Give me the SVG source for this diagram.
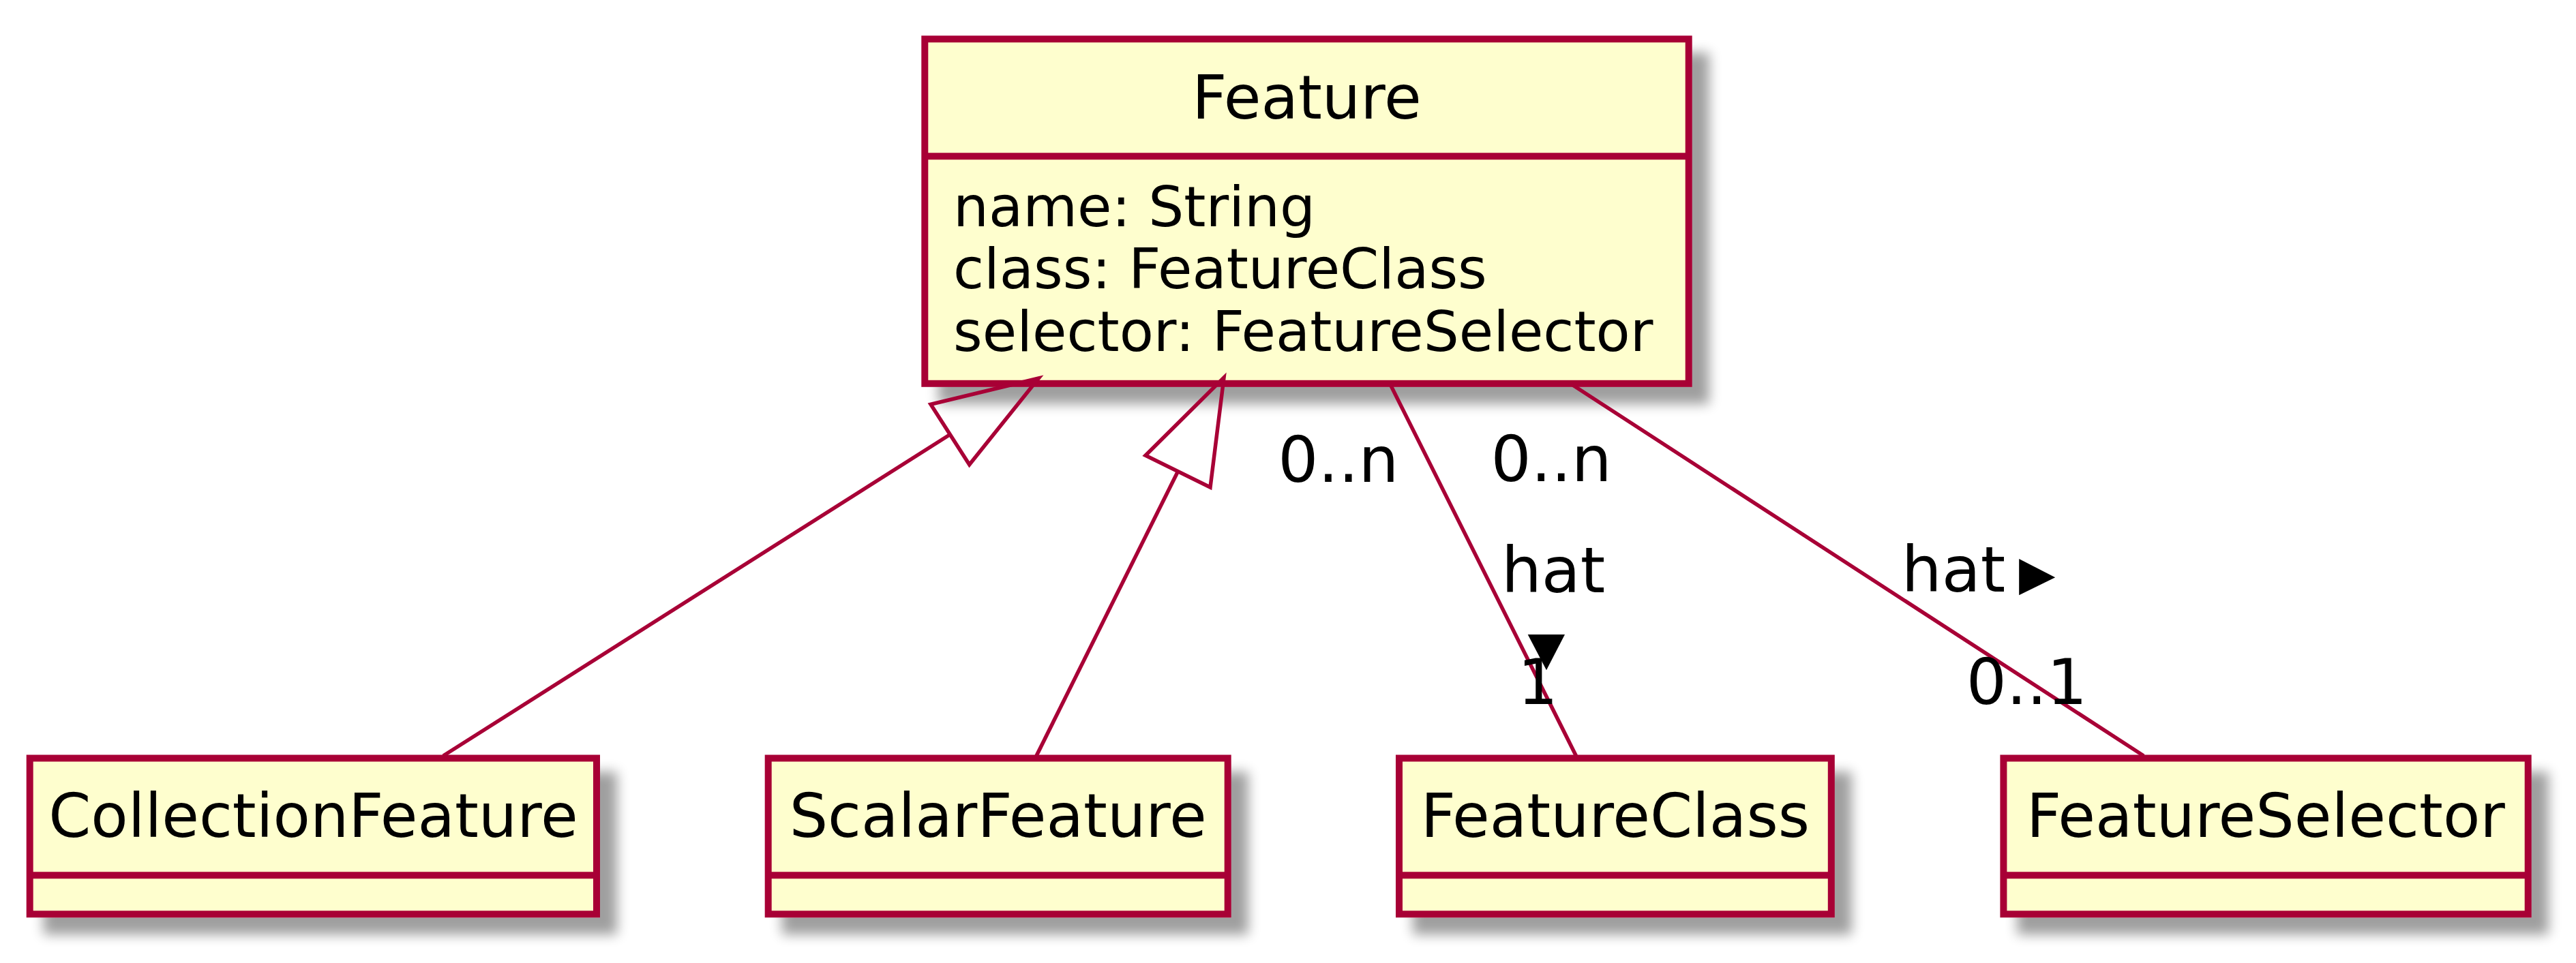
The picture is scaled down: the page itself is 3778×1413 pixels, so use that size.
<svg xmlns="http://www.w3.org/2000/svg" width="3778" height="1413" viewBox="0 0 3778 1413">
<style>
.box{fill:#FEFECE;stroke:#A80036;stroke-width:10;filter:url(#sh)}
.sep{stroke:#A80036;stroke-width:10}
.name{font-family:"DejaVu Sans",sans-serif;font-size:89px;fill:#000;text-anchor:middle}
.attr{font-family:"DejaVu Sans",sans-serif;font-size:82px;fill:#000}
.lbl{font-family:"DejaVu Sans",sans-serif;font-size:93px;fill:#000}
.edge{stroke:#A80036;stroke-width:5.5;fill:none}
.gen{stroke:#A80036;stroke-width:5.5;fill:none;stroke-linejoin:miter}
</style>
<defs>
<filter id="sh" x="-0.2" y="-0.3" width="1.5" height="1.7">
<feGaussianBlur in="SourceAlpha" stdDeviation="9"/>
<feOffset dx="25" dy="25" result="o"/>
<feComponentTransfer><feFuncA type="linear" slope="0.38"/></feComponentTransfer>
<feMerge><feMergeNode/><feMergeNode in="SourceGraphic"/></feMerge>
</filter>
</defs>
<rect width="3778" height="1413" fill="#FFFFFF"/>

<g id="Feature">
<rect class="box" x="1356.3" y="57.3" width="1120.4" height="505.5"/>
<line class="sep" x1="1356.3" y1="229.2" x2="2476.7" y2="229.2"/>
<text class="name" x="1916.5" y="173.6">Feature</text>
<text class="attr" x="1398" y="332">name: String</text>
<text class="attr" x="1398" y="423.3">class: FeatureClass</text>
<text class="attr" x="1398" y="515.2">selector: FeatureSelector</text>
</g>

<g id="CollectionFeature">
<rect class="box" x="43.7" y="1112.5" width="831.3" height="228.8"/>
<line class="sep" x1="43.7" y1="1284.3" x2="875" y2="1284.3"/>
<text class="name" x="459.4" y="1228.3">CollectionFeature</text>
</g>

<g id="ScalarFeature">
<rect class="box" x="1126.7" y="1112.5" width="674" height="228.8"/>
<line class="sep" x1="1126.7" y1="1284.3" x2="1800.7" y2="1284.3"/>
<text class="name" x="1463.7" y="1228.3">ScalarFeature</text>
</g>

<g id="FeatureClass">
<rect class="box" x="2052" y="1112.5" width="633.8" height="228.8"/>
<line class="sep" x1="2052" y1="1284.3" x2="2685.8" y2="1284.3"/>
<text class="name" x="2368.9" y="1228.3">FeatureClass</text>
</g>

<g id="FeatureSelector">
<rect class="box" x="2938.4" y="1112.5" width="769.3" height="228.8"/>
<line class="sep" x1="2938.4" y1="1284.3" x2="3707.7" y2="1284.3"/>
<text class="name" x="3323" y="1228.3">FeatureSelector</text>
</g>

<g id="connectors">
<line class="edge" x1="1393.4" y1="637.5" x2="650" y2="1109"/>
<polygon class="gen" points="1523.3,555 1365,593.3 1421.7,681.7"/>
<line class="edge" x1="1727.5" y1="691.7" x2="1520" y2="1109"/>
<polygon class="gen" points="1795,554 1680,668.3 1775,715"/>
<line class="edge" x1="2038" y1="562" x2="2311.5" y2="1109"/>
<line class="edge" x1="2302" y1="562" x2="3144" y2="1109"/>
<text class="lbl" x="1874.2" y="706.7">0..n</text>
<text class="lbl" x="2186.4" y="706.3">0..n</text>
<text class="lbl" x="2201.9" y="869">hat</text>
<polygon points="2240.7,931 2295,931 2268,983.3" fill="#000"/>
<text class="lbl" x="2225.8" y="1033.3">1</text>
<text class="lbl" x="2788.8" y="868.3">hat</text>
<polygon points="2961.2,820 2961.2,873.3 3014.2,847.3" fill="#000"/>
<text class="lbl" x="2883.7" y="1033.3">0..1</text>
</g>
</svg>
